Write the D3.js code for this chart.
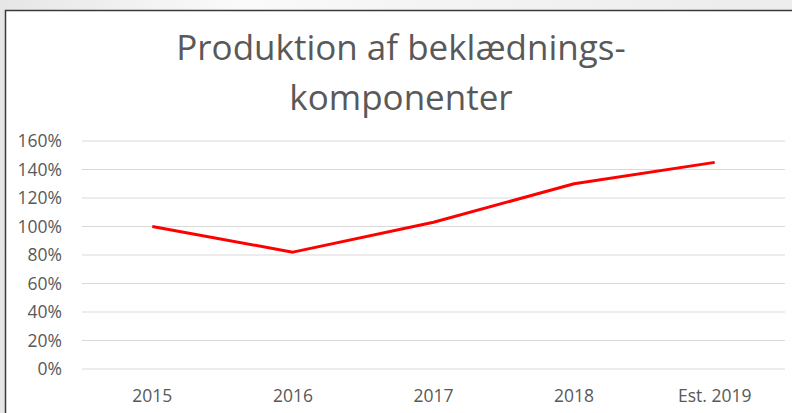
<!DOCTYPE html>
<html>
<head>
<meta charset="utf-8">
<script src="https://d3js.org/d3.v7.min.js"></script>
<style>
  body { margin: 0; background: #efefef; overflow: hidden; }
</style>
</head>
<body>
<div id="my_dataviz"></div>
<script>
// data
var years = ["2015", "2016", "2017", "2018", "Est. 2019"];
var production = [100, 82, 103, 130, 145];
var yTicks = [0, 20, 40, 60, 80, 100, 120, 140, 160];
var titleLines = ["Produktion af beklædnings-", "komponenter"];

var W = 792, H = 413;
var margin = {top: 141, right: 7, bottom: 44, left: 82};

var svg = d3.select("#my_dataviz")
  .append("svg")
    .attr("width", W)
    .attr("height", H);

// slide background with a soft white swoosh
var defs = svg.append("defs");
var grad = defs.append("linearGradient").attr("id", "swoosh")
  .attr("x1", "0").attr("y1", "0").attr("x2", "1").attr("y2", "0");
grad.append("stop").attr("offset", "0%").attr("stop-color", "#e6e6e6");
grad.append("stop").attr("offset", "30%").attr("stop-color", "#fafafa");
grad.append("stop").attr("offset", "60%").attr("stop-color", "#f3f3f3");
grad.append("stop").attr("offset", "100%").attr("stop-color", "#ececec");
svg.append("rect").attr("width", W).attr("height", H).attr("fill", "url(#swoosh)");

// chart area
svg.append("rect")
  .attr("x", 5.5).attr("y", 10.5)
  .attr("width", W + 10).attr("height", H + 10)
  .attr("fill", "#ffffff")
  .attr("stroke", "#3a3a3a")
  .attr("stroke-width", 1.5);

var width = W - margin.left - margin.right,
    height = 369 - margin.top;

var g = svg.append("g")
  .attr("transform", "translate(" + margin.left + "," + margin.top + ")");

var x = d3.scaleBand().domain(years).range([0, width]);
var y = d3.scaleLinear().domain([0, 160]).range([height, 0]);

// gridlines
g.append("g")
  .selectAll("line")
  .data(yTicks)
  .enter()
  .append("line")
    .attr("x1", 0).attr("x2", width)
    .attr("y1", function(d) { return y(d); })
    .attr("y2", function(d) { return y(d); })
    .attr("stroke", "#d9d9d9")
    .attr("stroke-width", 1.2);

// y axis labels
var yAxis = g.append("g")
  .call(d3.axisLeft(y).tickValues(yTicks).tickSize(0).tickPadding(20)
    .tickFormat(function(d) { return d + "%"; }));
yAxis.select(".domain").remove();
yAxis.selectAll("text")
  .style("font-family", "'Open Sans', sans-serif")
  .style("font-size", "17.5px")
  .attr("fill", "#595959");

// x axis labels
var xAxis = g.append("g")
  .attr("transform", "translate(0," + height + ")")
  .call(d3.axisBottom(x).tickSize(0).tickPadding(21));
xAxis.select(".domain").remove();
xAxis.selectAll("text")
  .style("font-family", "'Open Sans', sans-serif")
  .style("font-size", "17.5px")
  .attr("fill", "#595959");

// line
var line = d3.line()
  .x(function(d, i) { return x(years[i]) + x.bandwidth() / 2; })
  .y(function(d) { return y(d); });

g.append("path")
  .datum(production)
  .attr("d", line)
  .attr("fill", "none")
  .attr("stroke", "#ff0000")
  .attr("stroke-width", 3)
  .attr("stroke-linejoin", "round");

// title
svg.append("g").selectAll("text")
  .data(titleLines)
  .enter()
  .append("text")
    .attr("x", 401)
    .attr("y", function(d, i) { return 60 + i * 50; })
    .attr("text-anchor", "middle")
    .style("font-family", "'Open Sans', sans-serif")
    .style("font-size", "35px")
    .attr("fill", "#595959")
    .text(function(d) { return d; });
</script>
</body>
</html>
